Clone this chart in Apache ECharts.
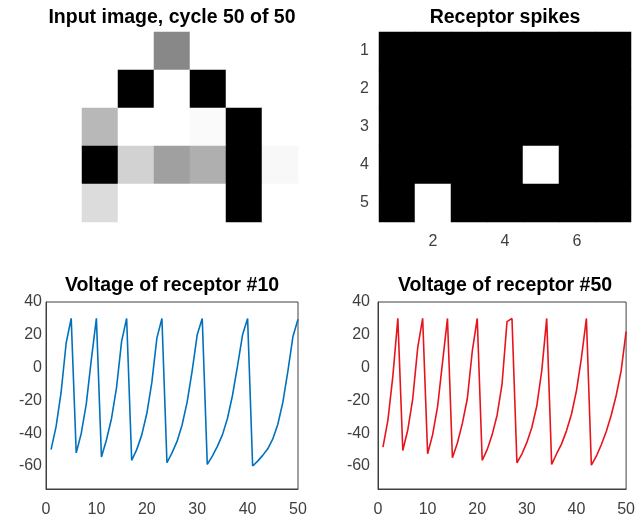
<!DOCTYPE html>
<html>
<head>
<meta charset="utf-8">
<style>
  html, body { margin: 0; padding: 0; background: #ffffff; }
  #chart { width: 638px; height: 520px; }
</style>
<script src="https://cdn.jsdelivr.net/npm/echarts@6/dist/echarts.min.js"></script>
</head>
<body>
<div id="chart"></div>
<script>
// ---------- data ----------
const imageCols = ['1', '2', '3', '4', '5', '6', '7'];
const imageRows = ['1', '2', '3', '4', '5'];
// grey level of each input pixel (0 = black, 255 = white), row by row
const inputImage = [
  [255, 255, 255, 136, 255, 255, 255],
  [255, 255,   0, 255,   0, 255, 255],
  [255, 184, 255, 255, 250,   0, 255],
  [255,   0, 210, 160, 175,   0, 248],
  [255, 220, 255, 255, 255,   0, 255]
];
// receptor spikes (1 = spike) row by row
const receptorSpikes = [
  [0, 0, 0, 0, 0, 0, 0],
  [0, 0, 0, 0, 0, 0, 0],
  [0, 0, 0, 0, 0, 0, 0],
  [0, 0, 0, 0, 1, 0, 0],
  [0, 1, 0, 0, 0, 0, 0]
];
const cycles = [1,2,3,4,5,6,7,8,9,10,11,12,13,14,15,16,17,18,19,20,21,22,23,24,25,
                26,27,28,29,30,31,32,33,34,35,36,37,38,39,40,41,42,43,44,45,46,47,48,49,50];
const voltage10 = [-50,-36,-15,15,30, -52,-40,-22,5,30, -54.5,-44,-31,-12,16,30,
                   -56.5,-50,-41,-28,-9,18,30, -58,-52,-45,-35,-21,-2,20,30,
                   -59,-54,-48,-41,-31,-17,1,20,30, -60,-57,-53.5,-49.5,-43.5,-34.5,-21,-2,19,29.5];
const voltage50 = [-48.5,-32,-5,30, -50.5,-38,-19,12,30, -52.5,-41,-24,3,30,
                   -55,-46,-34,-19,10,30, -56.5,-50,-41,-29,-10,28,30,
                   -58,-52.7,-45.6,-36.5,-23.4,-2,30, -59,-52.5,-46.5,-38.4,-28.3,-14,6,30,
                   -59.5,-54,-47,-39,-29,-17,-2,22];
const voltageTicksX = [0, 10, 20, 30, 40, 50];
const voltageTicksY = [-60, -40, -20, 0, 20, 40];
const titles = ['Input image, cycle 50 of 50', 'Receptor spikes',
                'Voltage of receptor #10', 'Voltage of receptor #50'];

// ---------- build ----------
function toCells(matrix) {
  const out = [];
  matrix.forEach((row, r) => row.forEach((v, c) => out.push([c, r, v])));
  return out;
}
function toPoints(xs, ys) { return xs.map((x, i) => [x, ys[i]]); }

const FONT = '"Liberation Sans", Arial, sans-serif';
const TICK_COLOR = '#404040';
const BOX_COLOR = '#404040';

function titleItem(text, cx, top) {
  return {
    text: text, left: cx, top: top, textAlign: 'center', padding: 0,
    textStyle: { fontFamily: FONT, fontSize: 19.5, fontWeight: 'bold', color: '#000000' }
  };
}

function voltageX(gridIndex) {
  return {
    type: 'value', gridIndex: gridIndex, min: 0, max: 50, interval: 10,
    axisLine: { show: true, onZero: false, lineStyle: { color: BOX_COLOR, width: 1 } },
    axisTick: { show: false },
    splitLine: { show: false },
    axisLabel: { fontFamily: FONT, fontSize: 16, color: TICK_COLOR, margin: 13,
                 customValues: voltageTicksX }
  };
}
function voltageY(gridIndex, margin) {
  return {
    type: 'value', gridIndex: gridIndex, min: -74, max: 40,
    axisLine: { show: true, onZero: false, lineStyle: { color: BOX_COLOR, width: 1 } },
    axisTick: { show: false },
    splitLine: { show: false },
    axisLabel: { fontFamily: FONT, fontSize: 16, color: TICK_COLOR, margin: margin,
                 customValues: voltageTicksY }
  };
}

const option = {
  animation: false,
  backgroundColor: '#ffffff',
  title: [
    titleItem(titles[0], 172, 8),
    titleItem(titles[1], 505, 8),
    titleItem(titles[2], 172, 276),
    titleItem(titles[3], 505, 276)
  ],
  grid: [
    { left: 46, top: 32, width: 252, height: 190 },
    { left: 379, top: 32, width: 252, height: 190, show: true, backgroundColor: '#000000', borderWidth: 0 },
    { left: 46, top: 302, width: 252, height: 187, show: true, borderColor: BOX_COLOR, borderWidth: 1 },
    { left: 378, top: 302, width: 253, height: 187, show: true, borderColor: BOX_COLOR, borderWidth: 1 }
  ],
  xAxis: [
    { type: 'category', gridIndex: 0, data: imageCols, show: false },
    { type: 'category', gridIndex: 1, data: imageCols,
      axisLine: { show: false }, axisTick: { show: false }, splitLine: { show: false },
      axisLabel: { fontFamily: FONT, fontSize: 16, color: TICK_COLOR, margin: 12,
                   interval: function (idx) { return idx % 2 === 1; } } },
    voltageX(2),
    voltageX(3)
  ],
  yAxis: [
    { type: 'category', gridIndex: 0, data: imageRows, inverse: true, show: false },
    { type: 'category', gridIndex: 1, data: imageRows, inverse: true,
      axisLine: { show: false }, axisTick: { show: false }, splitLine: { show: false },
      axisLabel: { fontFamily: FONT, fontSize: 16, color: TICK_COLOR, margin: 10 } },
    voltageY(2, 4),
    voltageY(3, 8)
  ],
  visualMap: [
    { type: 'continuous', seriesIndex: 0, min: 0, max: 255, show: false,
      inRange: { color: ['#000000', '#ffffff'] } },
    { type: 'continuous', seriesIndex: 1, min: 0, max: 1, show: false,
      inRange: { color: ['#000000', '#ffffff'] } }
  ],
  series: [
    { type: 'heatmap', xAxisIndex: 0, yAxisIndex: 0, data: toCells(inputImage),
      emphasis: { disabled: true }, progressive: 0 },
    { type: 'heatmap', xAxisIndex: 1, yAxisIndex: 1, data: toCells(receptorSpikes),
      emphasis: { disabled: true }, progressive: 0 },
    { type: 'line', xAxisIndex: 2, yAxisIndex: 2, data: toPoints(cycles, voltage10),
      showSymbol: false, lineStyle: { color: '#0072BD', width: 1.6 }, itemStyle: { color: '#0072BD' } },
    { type: 'line', xAxisIndex: 3, yAxisIndex: 3, data: toPoints(cycles, voltage50),
      showSymbol: false, lineStyle: { color: '#E8141C', width: 1.6 }, itemStyle: { color: '#E8141C' } }
  ]
};

const chart = echarts.init(document.getElementById('chart'), null, { renderer: 'canvas' });
chart.setOption(option);
</script>
</body>
</html>
